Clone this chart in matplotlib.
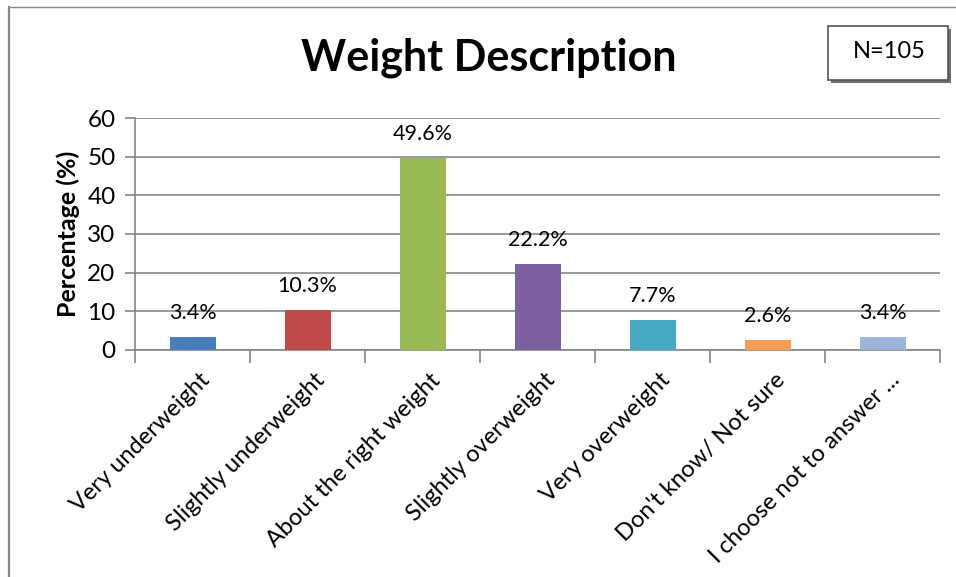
import matplotlib
matplotlib.use("Agg")
import matplotlib.pyplot as plt
from matplotlib.patches import Rectangle
from matplotlib.lines import Line2D

categories = ["Very underweight", "Slightly underweight", "About the right weight",
              "Slightly overweight", "Very overweight", "Don't know/ Not sure",
              "I choose not to answer ..."]
values = [3.4, 10.3, 49.6, 22.2, 7.7, 2.6, 3.4]
labels = ["3.4%", "10.3%", "49.6%", "22.2%", "7.7%", "2.6%", "3.4%"]
colors = ["#4A7EBB", "#BE4B48", "#98B954", "#7D60A0", "#46AAC5", "#F59D56", "#9CB4DC"]
yticks = [0, 10, 20, 30, 40, 50, 60]

plt.rcParams['font.family'] = ['Lato', 'DejaVu Sans']

W, H = 956, 577
fig = plt.figure(figsize=(W / 100, H / 100), dpi=100)

# outer frame (only top and left visible)
fig.add_artist(Line2D([9 / W, 9 / W], [0, 1 - 7 / H], transform=fig.transFigure,
                      color="#888888", lw=1.6))
fig.add_artist(Line2D([9 / W, 1], [1 - 7 / H, 1 - 7 / H], transform=fig.transFigure,
                      color="#888888", lw=1.0))

ax = fig.add_axes([135 / W, 1 - 350 / H, (940 - 135) / W, (350 - 118) / H])
x = range(len(categories))
ax.bar(x, values, width=0.4, color=colors, zorder=3)
ax.set_xlim(-0.5, len(categories) - 0.5)
ax.set_ylim(0, 60)
ax.set_yticks(yticks)
ax.yaxis.grid(True, color="#868686", lw=1.2, zorder=0)
for s in ["top", "right"]:
    ax.spines[s].set_visible(False)
for s in ["left", "bottom"]:
    ax.spines[s].set_color("#868686")
    ax.spines[s].set_linewidth(1.2)
ax.tick_params(axis="y", length=7, color="#868686", labelsize=17.5, pad=7, width=1.2)
ax.set_xticks([i - 0.5 for i in range(len(categories) + 1)], minor=False)
ax.set_xticklabels([])
ax.tick_params(axis="x", length=9, color="#868686", width=1.2)
for i, c in enumerate(categories):
    ax.text(i + 0.06, -5.0, c, rotation=45, ha="right", va="top",
            rotation_mode="anchor", fontsize=17)
for i, (v, l) in enumerate(zip(values, labels)):
    ax.annotate(l, (i, v), xytext=(0, 10), textcoords="offset points",
                ha="center", va="bottom", fontsize=15.5)
ax.set_ylabel("Percentage (%)", fontsize=18, fontweight="bold", labelpad=5)

fig.text(489 / W, 1 - 58 / H, "Weight Description", ha="center", va="center",
         fontsize=31, fontweight="bold")

# N box with shadow
fig.add_artist(Rectangle((831 / W, 1 - 83 / H), 120 / W, 54 / H, transform=fig.transFigure,
                         facecolor="#6e6e6e", edgecolor="none"))
fig.add_artist(Rectangle((828 / W, 1 - 80 / H), 120 / W, 54 / H, transform=fig.transFigure,
                         facecolor="white", edgecolor="#555555", lw=1.2))
fig.text(889 / W, 1 - 52 / H, "N=105", ha="center", va="center", fontsize=17)

fig.savefig("out.png", dpi=100)
